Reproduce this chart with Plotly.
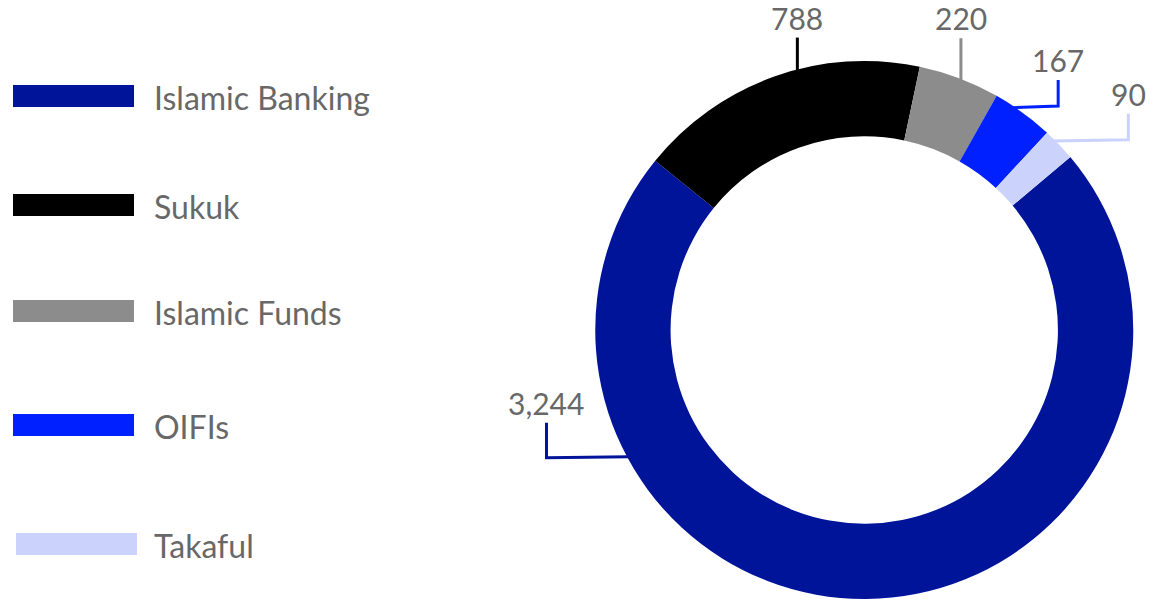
import math
import plotly.graph_objects as go

# ---- data ----
categories = ["Islamic Banking", "Sukuk", "Islamic Funds", "OIFIs", "Takaful"]
values = [3244, 788, 220, 167, 90]
value_labels = ["3,244", "788", "220", "167", "90"]
colors = ["#00149A", "#000000", "#8C8C8C", "#0020FF", "#CBD3FD"]

# ---- layout / style ----
PAGE_OFFSET = 8                     # default body margin of the page
W, H = 1154 - PAGE_OFFSET, 606 - PAGE_OFFSET
CX, CY, R = 864.25, 330.0, 269.0    # in screen pixels
ROTATION = 50
HOLE = 0.72
FONT = "Lato"
TEXT_COLOR = "#686868"

anchor_frac = [0.74, 0.58, 0.53, 0.31, 0.30]   # where on each slice the leader attaches
leader_dx = [-81, 0, 0, 45, 74]                # horizontal run (px)
leader_dy = [-35, -32, -41, -26, -26]          # vertical run (px)
label_gap = 20

legend_y = [96, 205, 311, 425, 544]
legend_x0 = [13, 13, 13, 13, 16]
swatch_w, swatch_h = 121, 22
legend_text_x = 152


def px(x):
    return (x - PAGE_OFFSET) / W


def py(y):
    return 1 - (y - PAGE_OFFSET) / H


fig = go.Figure()
fig.add_trace(go.Pie(
    labels=categories,
    values=values,
    marker=dict(colors=colors, line=dict(width=0)),
    hole=HOLE,
    sort=False,
    direction="clockwise",
    rotation=ROTATION,
    textinfo="none",
    showlegend=False,
    domain=dict(x=[px(CX - R), px(CX + R)], y=[py(CY + R), py(CY - R)]),
))

shapes = []
annotations = []

# leader lines + value labels
total = sum(values)
start = ROTATION
for i, v in enumerate(values):
    span = v / total * 360
    a = math.radians(start + anchor_frac[i] * span)
    start += span
    ax = CX + (R - 2) * math.sin(a)
    ay = CY - (R - 2) * math.cos(a)
    ax_edge = CX + R * math.sin(a)
    ay_edge = CY - R * math.cos(a)
    x1 = ax_edge + leader_dx[i]
    y1 = ay_edge
    y2 = ay_edge + leader_dy[i]
    if leader_dx[i] == 0:
        path = f"M {px(ax)},{py(ay)} L {px(ax)},{py(y2)}"
        x1 = ax
    else:
        path = f"M {px(ax)},{py(ay)} L {px(x1)},{py(y1)} L {px(x1)},{py(y2)}"
    shapes.append(dict(type="path", xref="paper", yref="paper", path=path,
                       line=dict(color=colors[i], width=3)))
    annotations.append(dict(x=px(x1), y=py(y2 - label_gap), xref="paper", yref="paper",
                            text=value_labels[i], showarrow=False,
                            xanchor="center", yanchor="middle",
                            font=dict(family=FONT, size=30, color=TEXT_COLOR)))

# custom legend
for i, name in enumerate(categories):
    shapes.append(dict(type="rect", xref="paper", yref="paper",
                       x0=px(legend_x0[i]), x1=px(legend_x0[i] + swatch_w),
                       y0=py(legend_y[i] + swatch_h / 2), y1=py(legend_y[i] - swatch_h / 2),
                       fillcolor=colors[i], line=dict(width=0)))
    annotations.append(dict(x=px(legend_text_x), y=py(legend_y[i] + 1), xref="paper", yref="paper",
                            text=name, showarrow=False, xanchor="left", yanchor="middle",
                            font=dict(family=FONT, size=32, color=TEXT_COLOR)))

fig.update_layout(
    width=W, height=H,
    margin=dict(l=0, r=0, t=0, b=0),
    paper_bgcolor="white", plot_bgcolor="white",
    shapes=shapes, annotations=annotations,
    showlegend=False,
)

fig.write_html("out.html")
